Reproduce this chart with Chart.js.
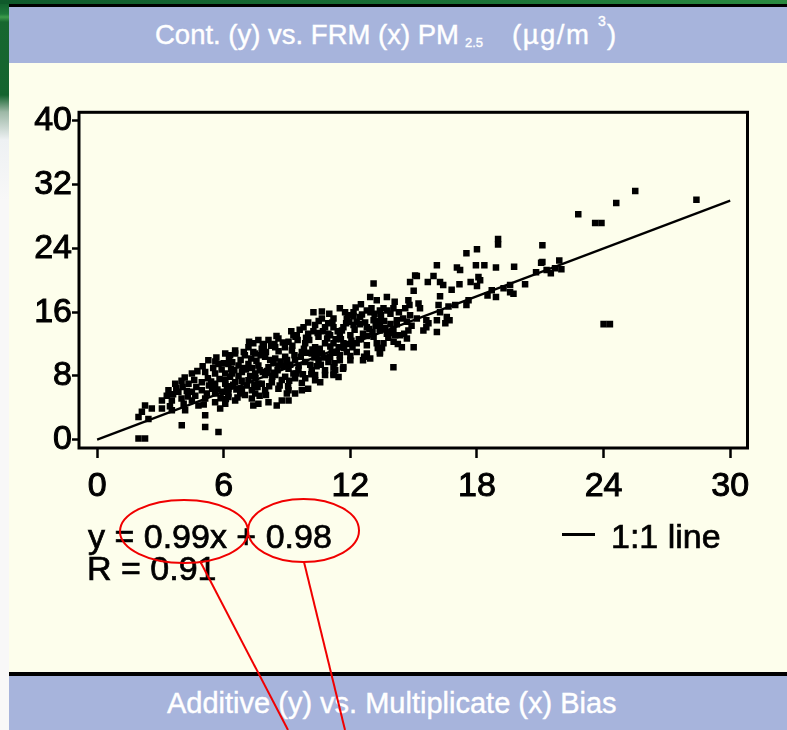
<!DOCTYPE html>
<html><head><meta charset="utf-8">
<script src="https://cdn.jsdelivr.net/npm/chart.js@4.4.1/dist/chart.umd.min.js"></script>
<style>
html,body{margin:0;padding:0;}
body{width:787px;height:730px;position:relative;overflow:hidden;background:#F8F8F8;font-family:"Liberation Sans",Arial,sans-serif;}
#leftstrip{position:absolute;left:0;top:0;width:9px;height:730px;background:linear-gradient(to bottom,#0F5A2B 0px,#1E7A3A 14px,#3E9C4C 17px,#17672F 22px,#15642F 95px,#9DB8A6 112px,#EEF1F3 140px,#F8F8F8 200px,#F8F8F8 730px);}
#topgreen{position:absolute;left:0;top:0;width:787px;height:4px;background:linear-gradient(to right,#0F5A2B,#1B7236 60%,#2A8A40);}
#topline{position:absolute;left:9px;top:4px;width:778px;height:3px;background:#000;}
#panel{position:absolute;left:9px;top:7px;width:778px;height:669px;background:#FDFEEC;}
.banner{position:absolute;left:9px;width:778px;background:#A7B4DC;}
#b1{top:7px;height:56px;}
#b2{top:676px;height:54px;}
#botline{position:absolute;left:9px;top:672px;width:778px;height:4px;background:#000;}
.w{position:absolute;color:#FFFFFF;white-space:nowrap;-webkit-text-stroke:0.4px #FFFFFF;}
.t{position:absolute;color:#000;font-size:34px;line-height:34px;white-space:nowrap;-webkit-text-stroke:0.7px #000;}
canvas{position:absolute;left:0;top:0;}
svg{position:absolute;left:0;top:0;}
</style>
</head>
<body>
<div id="leftstrip"></div>
<div id="topgreen"></div>
<div id="topline"></div>
<div id="panel"></div>
<div class="banner" id="b1"></div>
<div id="botline"></div>
<div class="banner" id="b2"></div>

<div class="w" style="left:155px;top:21px;font-size:27.5px;line-height:28px;">Cont. (y) vs. FRM (x) PM</div>
<div class="w" style="left:465px;top:36px;font-size:13px;line-height:13px;">2.5</div>
<div class="w" style="left:512px;top:21px;font-size:27.5px;line-height:28px;letter-spacing:1.5px;">(µg/m</div>
<div class="w" style="left:598px;top:14px;font-size:14px;line-height:14px;">3</div>
<div class="w" style="left:607px;top:21px;font-size:27.5px;line-height:28px;">)</div>
<div class="w" style="left:167px;top:689px;font-size:29px;line-height:29px;">Additive (y) vs. Multiplicate (x) Bias</div>

<canvas id="c" width="787" height="730"></canvas>

<div class="t" style="left:88px;top:519px;">y = 0.99x + 0.98</div>
<div class="t" style="left:87px;top:551px;">R = 0.91</div>
<div style="position:absolute;left:562px;top:533px;width:33px;height:2.5px;background:#000;"></div>
<div class="t" style="left:611px;top:519px;">1:1 line</div>

<svg width="787" height="730">
<ellipse cx="184" cy="531.5" rx="64" ry="31.5" fill="none" stroke="#F00000" stroke-width="2"/>
<ellipse cx="303.5" cy="530.5" rx="55.5" ry="31.5" fill="none" stroke="#F00000" stroke-width="2"/>
<line x1="200" y1="561" x2="288" y2="730" stroke="#F00000" stroke-width="2"/>
<line x1="304" y1="562" x2="345" y2="730" stroke="#F00000" stroke-width="2"/>
</svg>

<script>
const xTicks = [0, 6, 12, 18, 24, 30];
const yTicks = [0, 8, 16, 24, 32, 40];
const oneToOneX = [0, 30];
const oneToOneY = [0, 30];
const frmX = [
25.5,24.6,28.4,22.8,23.6,23.9,24.0,24.3,21.1,21.1,
21.3,21.5,21.9,22.0,19.0,19.0,18.0,17.5,16.1,17.05,
17.2,17.95,18.35,18.9,19.76,21.04,15.15,15.94,15.67,14.83,
16.25,16.4,17.17,17.7,18.07,18.15,16.8,18.0,15.0,13.73,
16.25,14.75,15.23,15.3,16.18,16.65,16.97,17.6,17.5,18.5,
18.9,19.26,19.57,19.73,20.28,20.8,21.7,16.25,16.57,16.1,
16.5,15.7,15.46,16.1,14.83,15.15,14.68,14.75,14.68,14.44,
15.0,14.04,14.12,13.57,13.4,13.73,13.4,14.04,13.57,13.9,
13.4,18.7,19.57,16.7,15.6,
13.1,15.07,12.94,13.25,11.5,12.15,12.78,13.4,11.2,11.83,
12.46,13.1,14.2,15.6,11.2,11.67,12.15,12.78,13.4,14.04,
11.04,11.5,12.0,12.6,13.1,14.36,11.2,11.67,12.3,12.78,
13.25,11.36,11.83,12.3,12.78,13.4,11.5,12.0,12.6,12.94,
11.2,11.67,11.2,11.04,
10.25,10.65,9.78,10.33,10.8,9.46,10.0,10.49,10.96,7.64,
8.12,8.59,9.07,9.86,10.33,10.8,7.17,7.8,8.44,9.23,
9.7,10.17,10.65,11.12,6.54,7.0,7.49,7.96,8.44,8.91,
9.38,9.86,10.49,10.96,6.22,6.7,7.17,7.64,8.12,8.59,
9.07,9.54,10.17,10.8,11.28,6.38,6.86,7.49,7.96,8.44,
8.91,9.38,9.86,10.33,6.07,6.54,7.17,7.8,8.28,6.22,
6.86,7.33,7.96,8.59,9.07,9.7,10.0,6.22,6.54,7.33,
7.64,8.12,8.75,9.07,10.33,11.44,9.38,8.99,8.51,7.4,
6.78,5.83,11.2,10.57,9.3,
7.4,6.54,5.75,5.12,5.59,6.07,3.7,4.33,4.96,5.59,
6.07,7.49,3.38,3.85,4.49,4.96,5.59,6.22,3.07,3.54,
4.0,4.49,5.12,5.59,6.07,2.27,2.59,3.07,3.54,4.17,
2.12,1.96,2.43,5.12,4.01,5.12,5.75,1.96,2.27,7.64,
6.07,5.27,4.49,4.0,
3.3,3.6,3.45,3.75,4.1,4.25,4.05,4.3,4.15,4.65,
4.7,4.6,4.8,4.75,5.05,5.2,5.3,5.25,5.0,5.45,
5.7,5.8,5.5,5.85,5.65,6.15,6.3,6.0,6.25,6.1,
6.35,6.6,6.7,6.5,6.8,6.65,6.85,7.05,7.25,7.1,
7.3,7.2,7.0,7.55,7.7,7.6,7.75,7.5,7.85,7.7,
8.0,8.2,8.05,8.3,8.15,8.25,8.0,8.6,8.7,8.55,
8.75,8.65,8.8,8.5,9.0,9.15,9.25,9.1,9.3,9.2,
9.05,9.5,9.65,9.55,9.75,9.6,9.8,9.7,10.05,10.2,
10.1,10.3,10.0,10.25,10.15,10.55,10.7,10.6,10.75,10.5,
10.8,10.65,11.05,11.3,11.15,11.25,11.0,11.3,11.55,11.7,
11.6,11.8,11.5,11.75,11.65,12.05,12.2,12.1,12.3,12.0,
12.25,12.15,12.5,12.7,12.55,12.8,12.65,12.5,13.05,13.2,
13.0,13.3,13.15,13.6,13.75,13.5,13.8,13.65,14.2,14.3,
14.05,14.25,14.1,14.5,14.6,14.8,14.55,14.9,
5.4,5.9,5.6,5.95,6.4,6.45,6.9,6.95,6.3,7.35,
7.4,7.9,7.45,7.85,8.35,8.4,8.9,8.85,8.35,9.35,
9.4,9.9,9.9,9.45,10.4,10.45,10.9,10.95,10.4,11.4,
11.45,11.9,11.95,11.9,12.4,12.45,12.9,12.95,13.35,13.45,
13.9,13.95
];
const contY = [
31.2,29.7,30.1,28.3,27.2,27.2,14.5,14.5,24.4,22.3,
21.3,20.9,22.5,21.4,24.5,25.2,23.9,23.4,21.9,21.6,
21.3,21.9,21.9,21.6,21.7,22.2,20.55,20.55,19.8,19.8,
19.8,19.4,19.5,19.8,20.4,20.0,18.8,19.3,18.7,17.9,
18.0,17.5,17.1,16.5,16.9,16.7,16.9,17.5,16.9,18.1,
17.9,19.0,19.4,18.3,19.5,21.0,21.5,16.0,15.4,15.0,
14.6,14.6,13.7,13.5,15.6,15.2,14.8,13.7,12.7,11.6,
11.6,9.1,13.1,12.1,10.8,13.3,13.7,16.5,16.5,15.8,
14.6,18.75,18.5,15.0,14.1,
19.6,20.6,17.9,17.5,16.5,16.0,16.2,16.2,15.2,15.2,
15.4,15.0,15.0,15.0,14.1,14.1,14.4,14.1,13.9,13.9,
13.1,13.1,13.1,13.3,12.9,13.1,12.1,12.1,12.1,11.85,
12.1,11.0,11.0,11.0,10.8,11.0,9.96,9.96,9.96,10.2,
9.1,9.1,8.1,10.4,
16.0,15.2,14.1,14.4,14.1,13.1,13.3,12.9,13.3,12.5,
12.5,12.7,12.3,12.1,11.6,12.1,11.6,11.4,11.6,11.2,
11.0,10.8,10.8,11.0,10.8,10.6,10.8,10.4,10.2,10.4,
9.96,9.75,9.96,9.75,9.5,9.3,9.5,9.3,9.1,9.3,
8.9,8.7,8.7,8.7,8.7,8.3,8.5,8.3,8.1,8.1,
7.9,7.7,7.7,8.1,7.45,7.2,7.45,7.0,7.2,6.4,
6.4,6.2,6.2,6.4,6.2,6.2,6.4,5.35,4.9,5.15,
4.5,4.7,4.9,4.9,7.45,7.86,5.8,5.8,4.3,4.3,
5.8,3.9,8.3,7.2,13.1,
12.1,11.2,9.5,8.5,8.3,8.3,7.0,7.0,7.2,7.0,
7.0,5.8,6.2,6.0,6.0,6.2,5.8,5.8,4.9,4.9,
5.15,4.9,5.15,4.7,4.5,4.3,3.9,3.9,3.7,3.7,
3.5,2.85,2.6,3.05,1.8,1.6,0.95,0.13,0.13,7.0,
10.8,9.96,8.3,7.4,
5.5,5.7,4.2,6.5,4.5,6.1,6.6,5.4,7.8,5.5,
6.6,7.5,4.3,8.6,4.4,5.8,6.8,7.7,9.2,6.4,
6.3,7.6,9.0,5.2,10.3,6.7,7.9,9.6,10.2,5.1,
8.9,6.3,8.0,8.7,10.0,5.3,7.4,8.8,8.0,6.8,
10.2,12.3,5.6,9.9,8.7,6.6,10.6,7.7,12.0,5.5,
11.0,10.0,8.6,7.9,6.7,11.8,5.6,11.1,9.8,8.7,
7.5,6.8,12.2,13.0,10.0,9.4,11.8,7.4,8.3,13.6,
6.7,12.5,10.4,9.3,8.2,13.8,11.4,7.1,12.5,11.3,
9.4,10.3,14.7,13.6,8.2,11.4,13.6,9.4,10.3,14.9,
8.1,16.1,11.7,12.6,14.7,9.6,15.8,10.9,12.6,11.5,
13.7,14.6,10.6,16.0,8.9,12.4,13.8,11.6,14.8,10.5,
16.6,15.5,12.6,14.7,15.7,13.0,10.4,17.0,13.5,14.3,
16.5,11.5,15.8,14.9,16.2,11.5,12.8,14.0,14.5,16.0,
12.3,12.0,17.3,15.2,16.5,16.9,13.3,14.3,
7.3,8.8,9.8,6.0,9.7,6.9,9.0,11.0,10.6,9.0,
11.0,11.8,6.9,8.5,9.6,12.0,11.6,9.2,8.4,10.6,
12.9,12.8,10.9,8.3,10.9,13.4,12.7,14.6,9.2,13.6,
11.6,12.0,14.8,15.6,12.6,14.5,13.9,16.0,14.9,15.6,
14.5,13.4
];

const scatterData = frmX.map((x, i) => ({x: x, y: contY[i]}));
const lineData = oneToOneX.map((x, i) => ({x: x, y: oneToOneY[i]}));

const boxPlugin = {
  id: 'box',
  afterDraw(chart) {
    const a = chart.chartArea, ctx = chart.ctx;
    ctx.save();
    ctx.strokeStyle = '#000';
    ctx.lineWidth = 3;
    ctx.strokeRect(a.left, a.top, a.right - a.left, a.bottom - a.top);
    ctx.restore();
  }
};

const tickFont = {family: "'Liberation Sans', Arial, sans-serif", size: 34};

new Chart(document.getElementById('c'), {
  type: 'scatter',
  data: {
    datasets: [
      {data: scatterData, pointStyle: 'rect', pointRadius: 4.6, pointHoverRadius: 4.6, backgroundColor: '#000', borderWidth: 0},
      {data: lineData, showLine: true, borderColor: '#000', borderWidth: 2.2, pointRadius: 0, fill: false}
    ]
  },
  options: {
    responsive: false,
    animation: false,
    events: [],
    layout: {padding: {left: 4, top: 112.3, right: 39.5, bottom: 222}},
    plugins: {legend: {display: false}, tooltip: {enabled: false}},
    scales: {
      x: {
        type: 'linear', min: -0.86, max: 30.82,
        afterBuildTicks: s => { s.ticks = xTicks.map(v => ({value: v})); },
        afterFit: s => { s.height = 60; },
        grid: {drawOnChartArea: false, drawTicks: true, tickLength: 10, tickWidth: 2.5, tickColor: '#000'},
        border: {display: false},
        ticks: {font: tickFont, color: '#000', padding: 8, maxRotation: 0, autoSkip: false, textStrokeWidth: 1, textStrokeColor: '#000'}
      },
      y: {
        type: 'linear', min: -1.05, max: 41.09,
        afterBuildTicks: s => { s.ticks = yTicks.map(v => ({value: v})); },
        afterFit: s => { s.width = 75; },
        grid: {drawOnChartArea: false, drawTicks: true, tickLength: 7, tickWidth: 2.5, tickColor: '#000'},
        border: {display: false},
        ticks: {font: tickFont, color: '#000', padding: 0, autoSkip: false, textStrokeWidth: 1, textStrokeColor: '#000'}
      }
    }
  },
  plugins: [boxPlugin]
});
</script>
</body></html>
